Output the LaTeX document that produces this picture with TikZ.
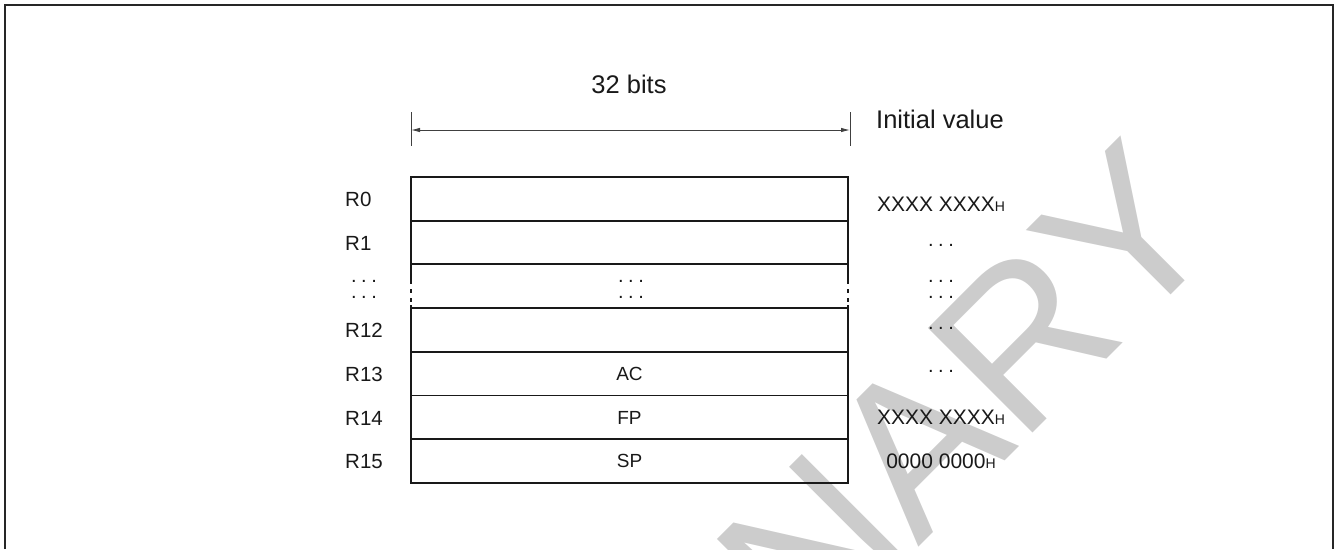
\documentclass[tikz,border=0pt]{standalone}
\usepackage{fontspec}
\setmainfont{Liberation Sans}
\usetikzlibrary{arrows.meta}
\newcommand\threedots{.\hspace{4.6pt}.\hspace{4.6pt}.}
\begin{document}
\begin{tikzpicture}[x=1pt,y=-1pt,
  reg/.style={minimum width=437pt, minimum height=43.7pt, inner sep=0pt, outer sep=0pt,
    draw=black!90, line width=1.9pt, font=\fontsize{19}{19}\selectfont},
  regtxt/.style={anchor=base, inner sep=0pt, font=\fontsize{19}{19}\selectfont, text=black!90},
  lbl/.style={anchor=base west, inner sep=0pt, font=\fontsize{20.5}{20.5}\selectfont, text=black!90},
  val/.style={anchor=base, inner sep=0pt, font=\fontsize{21}{21}\selectfont, text=black!90},
  dotsnode/.style={anchor=base, inner sep=0pt, font=\fontsize{20}{20}\selectfont, text=black!90},
  title/.style={anchor=base, inner sep=0pt, font=\fontsize{25.5}{25.5}\selectfont, text=black!90},
  tick/.style={line width=0.9pt, black!75},
  side/.style={line width=1.9pt, black!90},
  watermark/.style={anchor=base east, inner sep=0pt, rotate=45, text=black!20,
    font=\fontsize{215}{215}\selectfont}
]
\useasboundingbox (0,0) rectangle (1336,549);
% watermark
\node[watermark] (wm) at (1229,237) {PRELIMINARY};
% frame
\draw[line width=2pt, black!85] (4.5,549) -- (4.5,4.5) -- (1332.5,4.5) -- (1332.5,549);
% dimension
\coordinate (tlt) at (411,112); \coordinate (tlb) at (411,146);
\coordinate (trt) at (850,112); \coordinate (trb) at (850,146);
\draw[tick] (tlt) -- (tlb);
\draw[tick] (trt) -- (trb);
\coordinate (al) at (411,130); \coordinate (ar) at (850,130);
\draw[tick, {Latex[length=9pt,width=4.5pt]}-{Latex[length=9pt,width=4.5pt]}] (al) -- (ar);
\node[title] (bits) at (629,93) {32 bits};
\node[title, anchor=base west] (init) at (876,128) {Initial value};
% register rows
\node[reg] (r0) at (629.5,198.85) {};
\node[reg] (r1) at (629.5,242.55) {};
\node[minimum width=437pt, minimum height=43.7pt, inner sep=0pt, outer sep=0pt] (rd) at (629.5,286.25) {};
\node[reg] (r12) at (629.5,329.95) {};
\node[reg] (r13) at (629.5,373.65) {};
\node[reg] (r14) at (629.5,417.35) {};
\node[reg] (r15) at (629.5,461.05) {};
% broken sides of the dotted row
\draw[side] (rd.north west) -- ++(0,19.6);
\draw[side] ([yshift=-24.6pt]rd.north west) -- ++(0,4);
\draw[side] ([yshift=-33.6pt]rd.north west) -- ++(0,4);
\draw[side] ([yshift=-40.6pt]rd.north west) -- (rd.south west);
\draw[side] (rd.north east) -- ++(0,19.6);
\draw[side] ([yshift=-24.6pt]rd.north east) -- ++(0,4);
\draw[side] ([yshift=-33.6pt]rd.north east) -- ++(0,4);
\draw[side] ([yshift=-40.6pt]rd.north east) -- (rd.south east);
% register contents
\node[regtxt] (ac) at (629.5,380.5) {AC};
\node[regtxt] (fp) at (629.5,424.2) {FP};
\node[regtxt] (sp) at (629.5,467.9) {SP};
\node[dotsnode] (cd1) at (631,282) {\threedots};
\node[dotsnode] (cd2) at (631,298) {\threedots};
% labels
\node[lbl] (l0) at (345,206.5) {R0};
\node[lbl] (l1) at (345,250.2) {R1};
\node[dotsnode] (ld1) at (364,282) {\threedots};
\node[dotsnode] (ld2) at (364,298) {\threedots};
\node[lbl] (l12) at (345,337.6) {R12};
\node[lbl] (l13) at (345,381.3) {R13};
\node[lbl] (l14) at (345,425.0) {R14};
\node[lbl] (l15) at (345,468.7) {R15};
% initial values
\node[val] (v0) at (941,211) {XXXX XXXX{\fontsize{14}{14}\selectfont H}};
\node[dotsnode] (v1) at (941,246.5) {\threedots};
\node[dotsnode] (vd1) at (941,282) {\threedots};
\node[dotsnode] (vd2) at (941,298) {\threedots};
\node[dotsnode] (v12) at (941,329.5) {\threedots};
\node[dotsnode] (v13) at (941,372.5) {\threedots};
\node[val] (v14) at (941,424.5) {XXXX XXXX{\fontsize{14}{14}\selectfont H}};
\node[val] (v15) at (941,468) {0000 0000{\fontsize{14}{14}\selectfont H}};
\end{tikzpicture}
\end{document}
